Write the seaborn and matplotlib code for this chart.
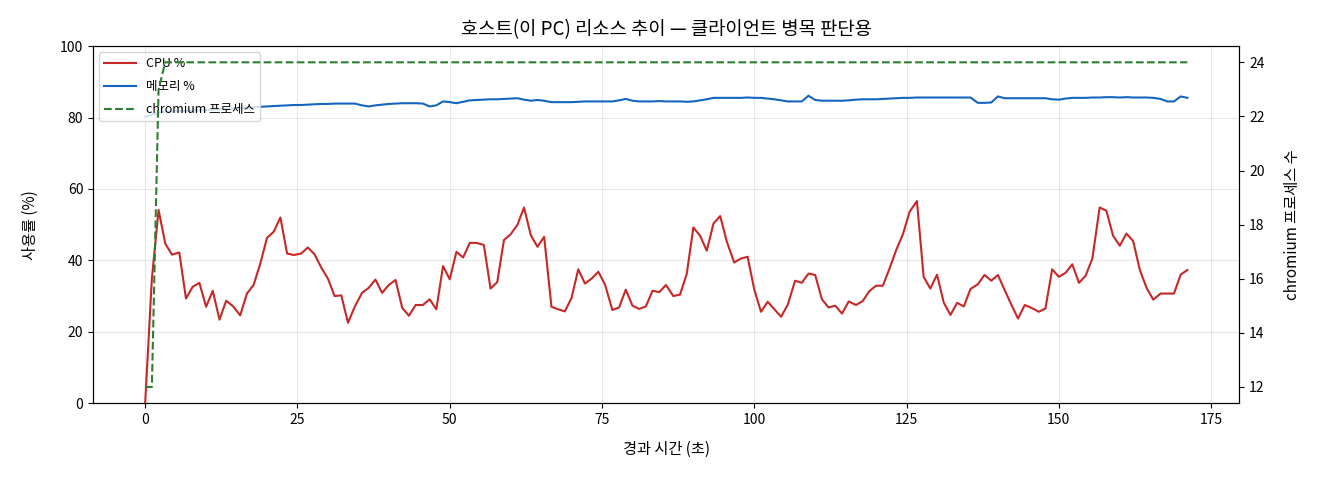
import matplotlib
matplotlib.use("Agg")
import matplotlib.pyplot as plt
import seaborn as sns

# elapsed seconds of each sample
elapsed_sec = [
    0.0, 1.1, 2.2, 3.3, 4.4, 5.6, 6.7, 7.8, 8.9, 10.0,
    11.1, 12.2, 13.3, 14.4, 15.6, 16.7, 17.8, 18.9, 20.0, 21.1,
    22.2, 23.3, 24.4, 25.6, 26.7, 27.8, 28.9, 30.0, 31.1, 32.2,
    33.3, 34.4, 35.6, 36.7, 37.8, 38.9, 40.0, 41.1, 42.2, 43.3,
    44.4, 45.6, 46.7, 47.8, 48.9, 50.0, 51.1, 52.2, 53.3, 54.4,
    55.6, 56.7, 57.8, 58.9, 60.0, 61.1, 62.2, 63.3, 64.4, 65.5,
    66.7, 67.8, 68.9, 70.0, 71.1, 72.2, 73.3, 74.4, 75.5, 76.7,
    77.8, 78.9, 80.0, 81.1, 82.2, 83.3, 84.4, 85.5, 86.7, 87.8,
    88.9, 90.0, 91.1, 92.2, 93.3, 94.4, 95.5, 96.7, 97.8, 98.9,
    100.0, 101.1, 102.2, 103.3, 104.4, 105.5, 106.7, 107.8, 108.9, 110.0,
    111.1, 112.2, 113.3, 114.4, 115.5, 116.7, 117.8, 118.9, 120.0, 121.1,
    122.2, 123.3, 124.4, 125.5, 126.7, 127.8, 128.9, 130.0, 131.1, 132.2,
    133.3, 134.4, 135.5, 136.7, 137.8, 138.9, 140.0, 141.1, 142.2, 143.3,
    144.4, 145.5, 146.7, 147.8, 148.9, 150.0, 151.1, 152.2, 153.3, 154.4,
    155.5, 156.7, 157.8, 158.9, 160.0, 161.1, 162.2, 163.3, 164.4, 165.5,
    166.7, 167.8, 168.9, 170.0, 171.1,
]

cpu_pct = [
    0, 34.9, 54.1, 44.7, 41.6, 42.2, 29.3, 32.6, 33.7, 27.0,
    31.5, 23.4, 28.7, 27.2, 24.6, 30.7, 33.1, 39.1, 46.3, 48.0,
    52.0, 41.9, 41.5, 41.9, 43.6, 41.7, 38.0, 34.9, 30.0, 30.2,
    22.5, 27.0, 30.9, 32.3, 34.6, 30.9, 33.1, 34.5, 26.7, 24.5,
    27.5, 27.5, 29.1, 26.3, 38.4, 34.7, 42.4, 40.8, 44.9, 44.9,
    44.3, 32.1, 33.9, 45.7, 47.3, 49.9, 54.8, 47.1,
    43.8, 46.6, 27.0, 26.3, 25.7, 29.5, 37.5, 33.5, 34.9, 36.8,
    33.2, 26.1, 26.8, 31.8, 27.3, 26.4, 27.1, 31.5, 31.1, 33.1,
    30.0, 30.4, 36.1, 49.2, 46.9, 42.7, 50.3, 52.4,
    45.2, 39.4, 40.5, 41.0, 31.8, 25.6, 28.4, 26.3, 24.2, 27.6,
    34.3, 33.7, 36.3, 35.9, 29.1, 26.8, 27.3, 25.1, 28.5, 27.5,
    28.6, 31.4, 32.9, 32.9, 37.7, 42.9, 47.3, 53.6, 56.6,
    35.4, 32.1, 36.0, 28.2, 24.7, 28.1, 27.1, 32.0, 33.3, 35.9,
    34.3, 35.9, 31.7, 27.6, 23.7, 27.5, 26.7, 25.6, 26.5, 37.5,
    35.4, 36.5, 38.9, 33.7, 35.7, 40.5, 54.8, 53.9, 46.9, 44.1,
    47.5, 45.4, 37.3, 32.3, 29.0, 30.7, 30.7, 30.7, 36.0, 37.3,
]

mem_pct = [
    80.2, 80.8, 81.3, 81.6, 81.7, 81.8, 81.9, 82.0, 82.0, 82.1,
    82.2, 82.3, 82.4, 82.5, 82.6, 82.8, 82.9, 83.0,
    83.1, 83.2, 83.3, 83.4, 83.5, 83.5, 83.6, 83.7, 83.8, 83.8, 83.9, 83.9, 83.9, 83.9,
    83.4, 83.1, 83.4, 83.6, 83.8, 83.9, 84.0, 84.0, 84.0, 83.9,
    83.1, 83.4, 84.5, 84.3, 84.0, 84.4, 84.8, 84.9, 85.0, 85.1,
    85.1, 85.2, 85.3, 85.4, 85.0, 84.7, 84.9, 84.7,
    84.3, 84.3, 84.3, 84.3, 84.4, 84.5, 84.5, 84.5, 84.5, 84.5,
    84.8, 85.2, 84.7, 84.5, 84.5, 84.5, 84.6, 84.5, 84.5, 84.5,
    84.4, 84.5, 84.8, 85.1,
    85.5, 85.5, 85.5, 85.5, 85.5, 85.6, 85.5, 85.5, 85.3, 85.1,
    84.8, 84.5, 84.5, 84.5, 86.1, 84.9, 84.7, 84.7, 84.7, 84.7, 84.8,
    85.0, 85.1, 85.1, 85.1, 85.2, 85.3, 85.4, 85.5, 85.5, 85.6,
    85.6, 85.6, 85.6, 85.6, 85.6, 85.6, 85.6, 85.6, 84.1, 84.1, 84.2,
    85.9, 85.4, 85.4, 85.4, 85.4, 85.4, 85.4, 85.4, 85.1, 85.0,
    85.3, 85.5, 85.5, 85.5, 85.6, 85.6, 85.7, 85.7, 85.6, 85.7,
    85.6, 85.6, 85.6, 85.5, 85.2, 84.5, 84.5, 85.9, 85.5,
]

chromium_procs = [12, 12, 23] + [24] * 152

plt.rcParams['font.family'] = ['Noto Sans CJK KR', 'DejaVu Sans']
plt.rcParams['axes.unicode_minus'] = False

fig, ax1 = plt.subplots(figsize=(13.2, 4.8), dpi=100)
ax2 = ax1.twinx()

sns.lineplot(x=elapsed_sec, y=cpu_pct, ax=ax1, color='#c62828', linewidth=1.5, label='CPU %', legend=False)
sns.lineplot(x=elapsed_sec, y=mem_pct, ax=ax1, color='#1565c0', linewidth=1.5, label='메모리 %', legend=False)
sns.lineplot(x=elapsed_sec, y=chromium_procs, ax=ax2, color='#2e7d32', linewidth=1.5,
             linestyle='--', label='chromium 프로세스', legend=False)

ax1.set_ylim(0, 100)
ax1.set_xlabel('경과 시간 (초)', fontsize=11, labelpad=10)
ax1.set_ylabel('사용률 (%)', fontsize=11, labelpad=15)
ax2.set_ylabel('chromium 프로세스 수', fontsize=11, labelpad=14)
ax1.set_title('호스트(이 PC) 리소스 추이 — 클라이언트 병목 판단용', fontsize=13.5, pad=8)
ax1.grid(alpha=0.3)

h1, l1 = ax1.get_legend_handles_labels()
h2, l2 = ax2.get_legend_handles_labels()
ax1.legend(h1 + h2, l1 + l2, loc='upper left', fontsize=9, labelspacing=0.8, handlelength=2.5)

fig.subplots_adjust(left=0.0705, right=0.939, top=0.904, bottom=0.16)
fig.savefig('out.png')
